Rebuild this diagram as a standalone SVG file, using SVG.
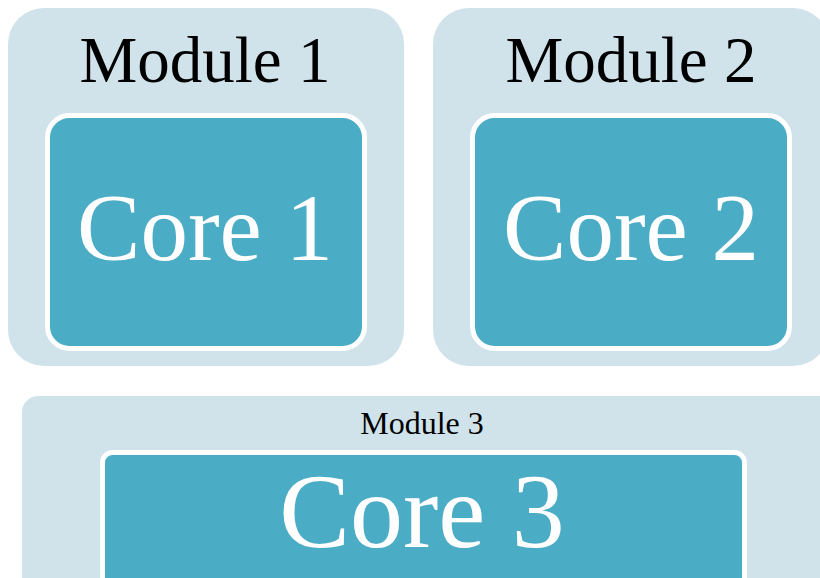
<svg xmlns="http://www.w3.org/2000/svg" width="820" height="578" viewBox="0 0 820 578">
<style>
.mod{fill:#D0E3EA;}
.core{fill:#4BACC6;stroke:#FFFFFF;stroke-width:5;}
text{font-family:"Liberation Serif","Times New Roman",serif;text-anchor:middle;}
.mt{fill:#000000;font-size:65px;}
.ct{fill:#FFFFFF;font-size:95px;}
</style>
<rect width="820" height="578" fill="#FFFFFF"/>
<g id="module1">
<rect class="mod" x="8" y="8" width="396" height="358" rx="36"/>
<text class="mt" x="205" y="82">Module 1</text>
</g>
<g id="core1">
<rect class="core" x="47.5" y="115.5" width="317" height="233" rx="22"/>
<text class="ct" x="205" y="260">Core 1</text>
</g>
<g id="module2">
<rect class="mod" x="433" y="8" width="396" height="358" rx="36"/>
<text class="mt" x="631" y="82">Module 2</text>
</g>
<g id="core2">
<rect class="core" x="472.5" y="115.5" width="317" height="233" rx="22"/>
<text class="ct" x="631" y="260">Core 2</text>
</g>
<g id="module3">
<rect class="mod" x="22" y="396" width="820" height="220" rx="16"/>
<text class="mt" x="422" y="434" style="font-size:32px">Module 3</text>
</g>
<g id="core3">
<rect class="core" x="102.5" y="452.5" width="642" height="150" rx="10"/>
<text class="ct" x="422" y="547" style="font-size:106px">Core 3</text>
</g>
<g id="connectors"></g>
</svg>
